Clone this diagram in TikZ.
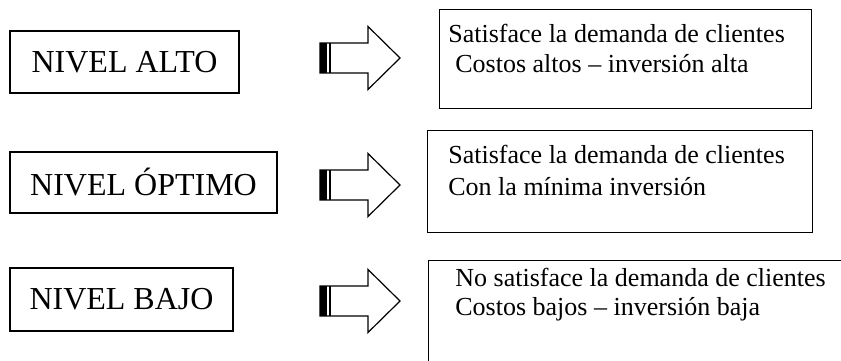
\documentclass[tikz,border=0pt]{standalone}
\usepackage{fontspec}
\setmainfont{Liberation Serif}
\begin{document}
\begin{tikzpicture}[x=0.5pt,y=-0.5pt]
\tikzstyle{nivel}= [rectangle,draw,line width=0.6pt,inner sep=0pt,font=\fontsize{16}{19}\selectfont]
\tikzstyle{caja}= [rectangle,draw,line width=0.6pt,inner sep=0pt,anchor=north west]
\tikzstyle{txt}= [anchor=base west,inner sep=0pt,font=\fontsize{13}{15.6}\selectfont]
\tikzstyle{flecha}= [draw,line width=0.6pt,line join=miter]

\useasboundingbox (0,0) rectangle (841,360);

% niveles
\path
	(124.5, 62)  node[nivel,minimum width=114.5pt,minimum height=31pt] (alto) {NIVEL ALTO}
	(143.5,182.5) node[nivel,minimum width=133.5pt,minimum height=30.5pt] (optimo) {NIVEL ÓPTIMO}
	(121.5,299.5) node[nivel,minimum width=111.5pt,minimum height=31.5pt] (bajo) {NIVEL BAJO}
;

% cajas de la derecha
\path
	(439,  9) node[caja,minimum width=186pt,minimum height=49.5pt] (cajaalto) {}
	(427,130) node[caja,minimum width=192.5pt,minimum height=51pt] (cajaoptimo) {}
	(428,260) node[caja,minimum width=215pt,minimum height=60pt] (cajabajo) {}
;
\path
	(448, 42) node[txt] (alto1) {Satisface la demanda de clientes}
	(455, 72) node[txt] (alto2) {Costos altos -- inversión alta}
	(448,163) node[txt] (optimo1) {Satisface la demanda de clientes}
	(448,195) node[txt] (optimo2) {Con la mínima inversión}
	(455,286) node[txt] (bajo1) {No satisface la demanda de clientes}
	(455,315) node[txt] (bajo2) {Costos bajos -- inversión baja}
;

% flechas
\foreach \cy in {58,185,301} {
	\draw[flecha] (320,\cy-15) -- (368,\cy-15) -- (368,\cy-31.5) -- (400,\cy)
		-- (368,\cy+31.5) -- (368,\cy+15) -- (320,\cy+15) -- cycle;
	\fill (320,\cy-15) rectangle (327,\cy+15);
	\draw[flecha] (330,\cy-15) -- (330,\cy+15);
}
\end{tikzpicture}
\end{document}
